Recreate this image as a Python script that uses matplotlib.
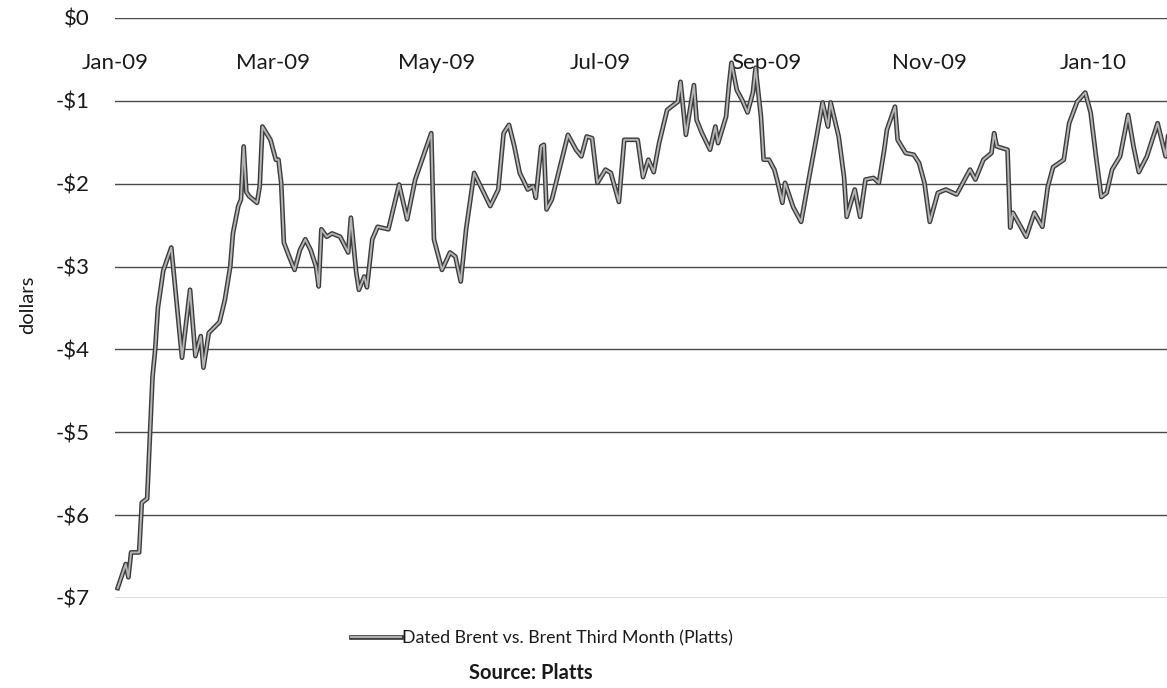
import numpy as np
import pandas as pd
import matplotlib
matplotlib.use("Agg")
import matplotlib.pyplot as plt
import matplotlib.dates as mdates
import matplotlib.patheffects as pe
from matplotlib.ticker import FuncFormatter

plt.rcParams['font.family'] = ['Lato', 'DejaVu Sans']

# days since 2009-01-01
days = [1, 4, 5, 6, 9, 10, 12, 13, 14, 15, 16, 18, 21, 25, 28, 30, 32, 33, 35, 39,
        41, 43, 44, 46, 47, 48, 49, 50, 53, 54, 55, 58, 60, 61, 62, 63, 65, 67, 69, 71,
        73, 75, 76, 77, 79, 81, 84, 87, 88, 90, 91, 93, 94, 96, 98, 102, 106, 109, 112, 115,
        118, 119, 122, 125, 127, 129, 131, 134, 137, 140, 143, 145, 147, 149, 151, 154, 156, 157, 159, 160,
        161, 163, 169, 172, 174, 176, 178, 180, 183, 185, 188, 190, 195, 197, 199, 201, 203, 206, 210, 211,
        213, 216, 217, 219, 222, 224, 225, 228, 229, 230, 232, 234, 236, 238, 239, 241, 242, 244, 246, 247,
        249, 250, 253, 256, 259, 262, 264, 266, 267, 270, 272, 273, 276, 278, 280, 283, 285, 287, 288, 291,
        292, 295, 298, 300, 302, 304, 307, 310, 314, 316, 319, 321, 324, 327, 328, 329, 333, 334, 335, 340,
        343, 346, 348, 350, 354, 356, 359, 362, 364, 366, 368, 370, 372, 375, 378, 380, 382, 385, 389, 392,
        393]

spread = [-6.88, -6.59, -6.75, -6.45, -6.45, -5.85, -5.80, -5.05, -4.33, -4.00, -3.50, -3.05, -2.77, -4.10, -3.28, -4.08, -3.84, -4.22, -3.80, -3.67,
          -3.40, -3.00, -2.60, -2.27, -2.19, -1.55, -2.10, -2.15, -2.23, -2.03, -1.31, -1.47, -1.71, -1.71, -1.99, -2.71, -2.88, -3.04, -2.80, -2.67,
          -2.80, -3.00, -3.24, -2.55, -2.64, -2.60, -2.64, -2.83, -2.41, -3.07, -3.28, -3.12, -3.25, -2.67, -2.52, -2.55, -2.01, -2.43, -1.95, -1.67,
          -1.39, -2.67, -3.04, -2.83, -2.88, -3.18, -2.55, -1.87, -2.07, -2.27, -2.07, -1.39, -1.29, -1.55, -1.87, -2.07, -2.03, -2.17, -1.55, -1.53,
          -2.31, -2.19, -1.41, -1.59, -1.67, -1.43, -1.45, -1.99, -1.83, -1.87, -2.22, -1.47, -1.47, -1.92, -1.71, -1.86, -1.51, -1.11, -1.01, -0.77,
          -1.41, -0.81, -1.23, -1.39, -1.59, -1.31, -1.51, -1.19, -0.83, -0.54, -0.87, -0.99, -1.14, -0.90, -0.60, -1.19, -1.71, -1.71, -1.83, -1.95,
          -2.23, -1.99, -2.28, -2.46, -1.92, -1.39, -1.02, -1.31, -1.02, -1.43, -1.92, -2.40, -2.07, -2.40, -1.95, -1.93, -1.99, -1.59, -1.35, -1.07,
          -1.47, -1.63, -1.65, -1.75, -1.99, -2.46, -2.11, -2.07, -2.13, -2.01, -1.83, -1.95, -1.71, -1.63, -1.39, -1.55, -1.59, -2.53, -2.35, -2.64,
          -2.35, -2.52, -2.04, -1.80, -1.71, -1.27, -1.01, -0.90, -1.14, -1.67, -2.16, -2.11, -1.83, -1.67, -1.17, -1.55, -1.86, -1.67, -1.27, -1.67,
          -1.40]

month_ticks = ["2009-01-01", "2009-03-01", "2009-05-01", "2009-07-01", "2009-09-01", "2009-11-01", "2010-01-01"]
y_ticks = [0, -1, -2, -3, -4, -5, -6, -7]

series_name = "Dated Brent vs. Brent Third Month (Platts)"
source_note = "Source: Platts"

dates = pd.Timestamp("2009-01-01") + pd.to_timedelta(days, unit="D")

fig = plt.figure(figsize=(11.67, 6.88), dpi=100)
ax = fig.add_axes([115 / 1167, 1 - 598 / 688, 1 - 115 / 1167, (598 - 18) / 688])

line_fx = [pe.Stroke(linewidth=3.4, foreground="#3c3c3c"), pe.Normal()]
ax.plot(dates, spread, color="#b4b4b4", linewidth=1.4, path_effects=line_fx,
        label=series_name, zorder=3)

ax.set_ylim(-7, 0)
ax.set_xlim(pd.Timestamp("2009-01-01"), pd.Timestamp("2009-01-01") + pd.Timedelta(days=392.5))
ax.set_yticks(y_ticks)
ax.yaxis.set_major_formatter(FuncFormatter(lambda v, p: "$0" if v == 0 else "-$%d" % abs(v)))
ax.grid(axis="y", color="#4a4a4a", linewidth=1.0)
ax.set_axisbelow(True)
for s in ax.spines.values():
    s.set_visible(False)

ax.set_xticks(pd.to_datetime(month_ticks))
ax.xaxis.set_major_formatter(mdates.DateFormatter("%b-%y"))
ax.xaxis.set_ticks_position("top")
ax.tick_params(axis="x", length=0, pad=-39.5, labelsize=16, colors="#1a1a1a")
ax.tick_params(axis="y", length=0, pad=18, labelsize=16, colors="#1a1a1a")

fig.text(28 / 1167, 1 - 305 / 688, "dollars", rotation=90, ha="center", va="center",
         fontsize=14.5, color="#1a1a1a")

leg = fig.legend(loc="center", bbox_to_anchor=(542 / 1167, 1 - 638 / 688), frameon=False,
                 fontsize=12.8, handlelength=2.8, handletextpad=0.1, borderpad=0)
for t in leg.get_texts():
    t.set_color("#1a1a1a")
fig.text(531 / 1167, 1 - 673 / 688, source_note, ha="center", va="center",
         fontsize=14.5, fontweight="bold", color="#1a1a1a")

fig.savefig("out.png", dpi=100)
